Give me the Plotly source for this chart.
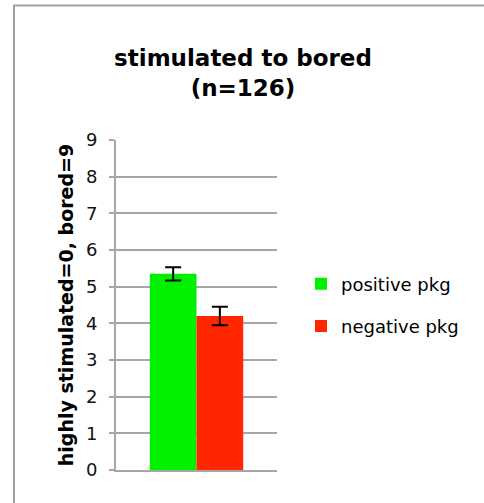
import plotly.graph_objects as go

# Mean rating on a 0 (highly stimulated) to 9 (bored) scale, with standard errors
category = [""]
series_names = ["positive pkg", "negative pkg"]
means = [5.35, 4.2]
errors = [0.18, 0.25]
colors = ["#00f000", "#ff2600"]
y_ticks = [0, 1, 2, 3, 4, 5, 6, 7, 8, 9]

FONT = "DejaVu Sans"
GRID = "#a6a6a6"

fig = go.Figure()
for i, (name, m, e, c) in enumerate(zip(series_names, means, errors, colors)):
    fig.add_trace(go.Bar(
        x=category,
        y=[m],
        name=name,
        legendgroup=f"g{i}",
        marker=dict(color=c, line=dict(width=0)),
        error_y=dict(type="data", array=[e], visible=True,
                     color="black", thickness=2, width=8),
    ))

W, H = 484, 503
L, R, T, B = 116, 207, 140, 33
pw, ph = W - L - R, H - T - B

def px_x(p):
    return (p - L) / pw

def px_y(p):
    return (H - B - p) / ph

fig.update_layout(
    width=W, height=H,
    margin=dict(l=L, r=R, t=T, b=B, pad=0),
    paper_bgcolor="white", plot_bgcolor="white",
    barmode="group", bargap=0.42, bargroupgap=0,
    showlegend=True,
    title=dict(
        text="<b>stimulated to bored<br>(n=126)</b>",
        font=dict(family=FONT, size=23, color="black"),
        x=243 / W, xanchor="center", xref="container",
        y=1 - 66 / H, yanchor="top", yref="container",
    ),
    legend=dict(
        x=px_x(301), xanchor="left",
        y=0.5, yanchor="middle",
        traceorder="grouped", tracegroupgap=16,
        font=dict(family=FONT, size=18, color="black"),
        bgcolor="rgba(0,0,0,0)",
    ),
    xaxis=dict(
        showticklabels=False, ticks="", showgrid=False, zeroline=False,
        showline=True, linecolor=GRID, linewidth=2,
    ),
    yaxis=dict(
        range=[0, 9], tickvals=y_ticks, ticktext=[str(t) for t in y_ticks],
        showgrid=True, gridcolor=GRID, gridwidth=2,
        zeroline=False,
        showline=True, linecolor=GRID, linewidth=2,
        ticks="outside", ticklen=5, tickwidth=2, tickcolor=GRID,
        ticklabelstandoff=8,
        tickfont=dict(family=FONT, size=18, color="#111111"),
        title=dict(text="<b>highly stimulated=0, bored=9</b>",
                   font=dict(family=FONT, size=19, color="black"),
                   standoff=7),
    ),
    shapes=[dict(
        type="rect", xref="paper", yref="paper",
        x0=px_x(14), x1=px_x(W + 20), y0=px_y(H + 20), y1=px_y(5.5),
        line=dict(color="#a0a0a0", width=2), fillcolor="rgba(0,0,0,0)",
        layer="above",
    )],
)

fig.write_html("out.html")
